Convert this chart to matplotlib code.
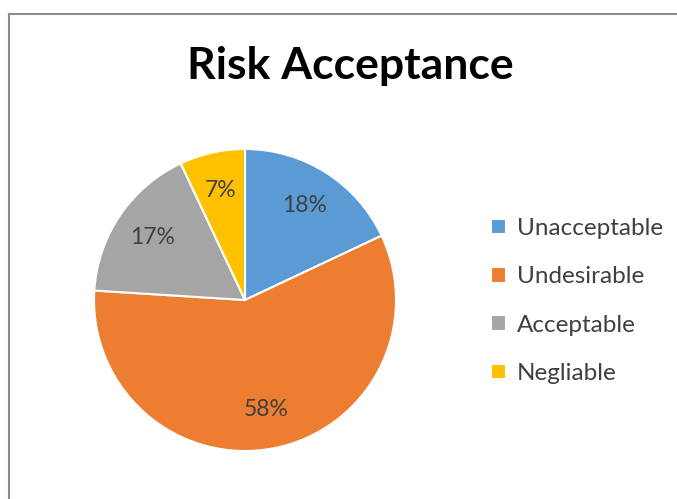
import matplotlib
matplotlib.use("Agg")
import matplotlib.pyplot as plt
from matplotlib.lines import Line2D

categories = ["Unacceptable", "Undesirable", "Acceptable", "Negliable"]
values = [18, 58, 17, 7]
colors = ["#5B9BD5", "#ED7D31", "#A5A5A5", "#FFC000"]
title = "Risk Acceptance"

plt.rcParams['font.family'] = ['Lato', 'DejaVu Sans']

W, H = 677, 499
fig = plt.figure(figsize=(W / 100, H / 100), dpi=100)

# frame lines (top and left)
fig.add_artist(Line2D([9 / W, 1], [1 - 14 / H, 1 - 14 / H], color="#8c8c8c", lw=1.5))
fig.add_artist(Line2D([9 / W, 9 / W], [1 - 14 / H, 0], color="#8c8c8c", lw=1.5))

ax = fig.add_axes([94 / W, 1 - 451 / H, 302 / W, 302 / H])
wedges, texts, autotexts = ax.pie(
    values, colors=colors, startangle=90, counterclock=False,
    autopct=lambda p: f"{p:.0f}%", pctdistance=0.74,
    wedgeprops=dict(edgecolor="white", linewidth=1.5),
    textprops=dict(fontsize=16.5, color="#404040"))
ax.set_xlim(-1.0, 1.0)
ax.set_ylim(-1.0, 1.0)
ax.set_aspect("equal")

fig.text(350 / W, 1 - 66 / H, title, ha="center", va="center",
         fontsize=32, fontweight="bold", color="black")

leg = fig.legend(wedges, categories, loc="center left",
                 bbox_to_anchor=(491 / W, 1 - 301 / H),
                 frameon=False, fontsize=17.5, handlelength=0.6, handleheight=0.6,
                 handletextpad=0.45, labelspacing=1.12, borderaxespad=0, borderpad=0)
for t in leg.get_texts():
    t.set_color("#404040")

fig.savefig("out.png", dpi=100)
